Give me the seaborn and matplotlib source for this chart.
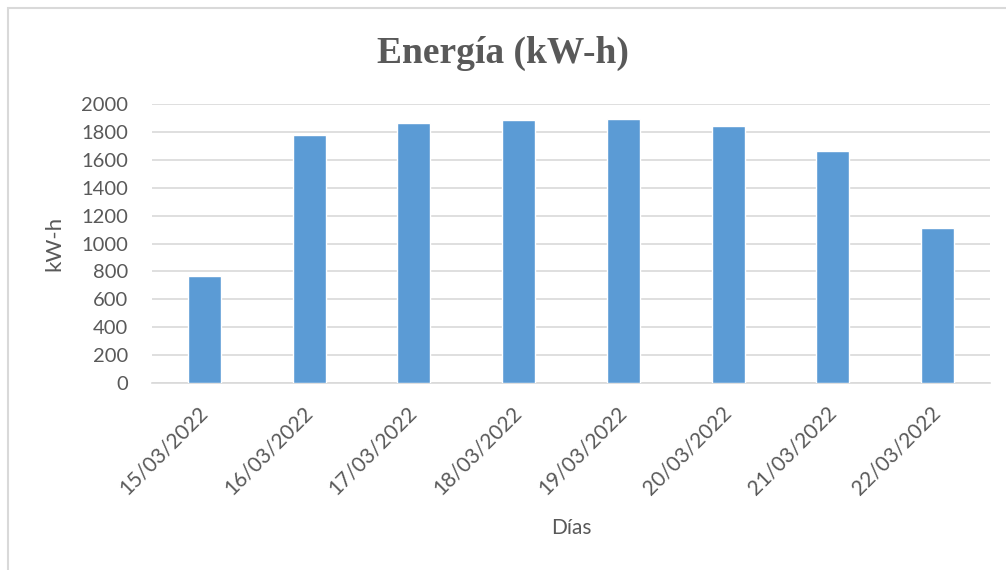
import matplotlib
matplotlib.use("Agg")
import matplotlib.pyplot as plt
import seaborn as sns
import pandas as pd
import numpy as np

dias = ["15/03/2022", "16/03/2022", "17/03/2022", "18/03/2022",
        "19/03/2022", "20/03/2022", "21/03/2022", "22/03/2022"]
energia = [767, 1778, 1862, 1886, 1891, 1843, 1660, 1108]
y_ticks = [0, 200, 400, 600, 800, 1000, 1200, 1400, 1600, 1800, 2000]

df = pd.DataFrame({"Días": dias, "kW-h": energia})

sns.set_style("white")
plt.rcParams['font.family'] = ['Lato', 'DejaVu Sans']
gris = "#595959"
linea = "#d9d9d9"

fig = plt.figure(figsize=(10.06, 5.70), dpi=100)
ax = fig.add_axes([0.151, 0.328, 0.833, 0.4895])

sns.barplot(data=df, x="Días", y="kW-h", color="#5b9bd5", width=0.315,
            saturation=1, ax=ax, zorder=3)

ax.set_ylim(0, 2000)
ax.set_xlim(-0.5, len(dias) - 0.5)
ax.set_yticks(y_ticks)
ax.yaxis.grid(True, color=linea, linewidth=1.2, zorder=0)
ax.tick_params(axis="y", length=0, labelsize=14.5, labelcolor=gris, pad=17)
ax.tick_params(axis="x", length=0, labelsize=15, labelcolor=gris, pad=19)
plt.setp(ax.get_xticklabels(), rotation=45, ha="right", va="center",
         rotation_mode="anchor")

# marcas entre categorías
ax.set_xticks(np.arange(-0.5, len(dias), 1.0), minor=True)
ax.tick_params(axis="x", which="minor", length=6, color=linea, width=1.2)

for s in ["top", "right", "left"]:
    ax.spines[s].set_visible(False)
ax.spines["bottom"].set_color(linea)
ax.spines["bottom"].set_linewidth(1.2)

ax.set_xlabel("Días", fontsize=15, color=gris, labelpad=14)
ax.set_ylabel("kW-h", fontsize=16, color=gris, labelpad=12)

fig.text(0.5, 0.907, "Energía (kW-h)", ha="center", va="center",
         fontsize=27, fontweight="bold", color=gris, family="Liberation Serif")

# borde del gráfico
fig.patches.append(plt.Rectangle((0.008, -0.01), 1.5, 0.996, transform=fig.transFigure,
                                 fill=False, edgecolor=linea, linewidth=1.5))

fig.savefig("out.png", dpi=100)
